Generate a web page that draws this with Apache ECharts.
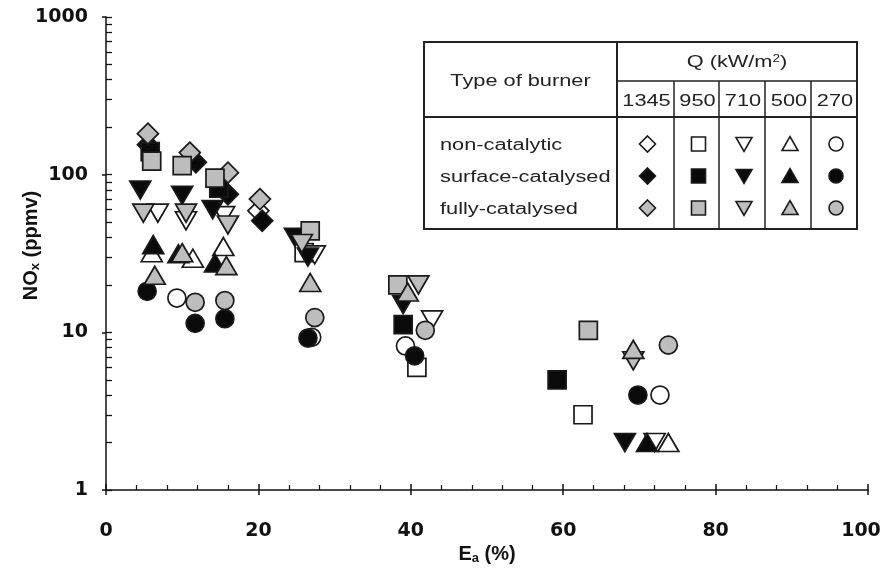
<!DOCTYPE html>
<html><head><meta charset="utf-8">
<script src="https://cdn.jsdelivr.net/npm/echarts@6/dist/echarts.min.js"></script>
<style>html,body{margin:0;padding:0;background:#fff}#c{width:881px;height:573px}</style>
</head><body><div id="c"></div>
<script>
// ---- tick labels / categories ----
const xTickValues = [0, 20, 40, 60, 80, 100];
const yMajorTicks = [1, 10, 100, 1000];
const yMinorTicks = [2,3,4,5,6,7,8,9,20,30,40,50,60,70,80,90,200,300,400,500,600,700,800,900];
const qLabels = ['1345', '950', '710', '500', '270'];
const burnerTypes = ['non-catalytic', 'surface-catalysed', 'fully-catalysed'];

// ---- data: [Ea (%), NOx (ppmv)] ----
// non-catalytic (open symbols)
const nonCat1345 = [[20, 59]];
const nonCat950  = [[26, 32], [40.8, 6.0], [62.6, 3.0]];
const nonCat710  = [[6.8, 57], [10.5, 51], [15.5, 55], [27.4, 31], [42.8, 12], [72, 2]];
const nonCat500  = [[6, 32], [11.4, 29.5], [15.4, 35], [73.8, 2]];
const nonCat270  = [[9.3, 16.5], [27, 9.3], [39.3, 8.2], [72.7, 4.0]];
// surface-catalysed (black symbols)
const surf1345 = [[5.5, 155], [11.8, 120], [16, 75], [20.5, 51]];
const surf950  = [[5.8, 140], [14.8, 82], [39, 11.2], [59.2, 5.0]];
const surf710  = [[4.5, 80], [10, 74], [14, 60], [24.8, 40], [26.5, 30], [39, 15], [68.1, 2]];
const surf500  = [[6.2, 36], [9.5, 31.5], [14.3, 27.5], [71, 2]];
const surf270  = [[5.4, 18.2], [11.7, 11.4], [15.6, 12.2], [26.5, 9.2], [40.5, 7.1], [69.8, 4.0]];
// fully-catalysed (grey symbols)
const full1345 = [[5.5, 182], [11, 138], [16, 103], [20.2, 70]];
const full950  = [[6, 122], [10, 114], [14.3, 95], [26.8, 44], [38.3, 20], [63.3, 10.3]];
const full710  = [[4.9, 57], [10.5, 57], [16, 48], [25.7, 36.6], [41, 20], [69.2, 6.6]];
const full500  = [[6.4, 23], [10, 32], [15.8, 26.5], [26.8, 20.7], [39.6, 18], [69.2, 7.8]];
const full270  = [[11.7, 15.5], [15.6, 15.9], [27.4, 12.4], [41.9, 10.3], [73.8, 8.3]];

const dataByType = [
  [nonCat1345, nonCat950, nonCat710, nonCat500, nonCat270],
  [surf1345, surf950, surf710, surf500, surf270],
  [full1345, full950, full710, full500, full270]
];

// ---- styles ----
const fills = ['#ffffff', '#0a0a0a', '#bdbdbd'];
const edge = '#1a1a1a';
const symbolDefs = [
  {symbol: 'diamond', size: [21, 21], rotate: 0},
  {symbol: 'rect', size: 18, rotate: 0},
  {symbol: 'triangle', size: [21, 18], rotate: 180},
  {symbol: 'triangle', size: [21, 18], rotate: 0},
  {symbol: 'circle', size: 18, rotate: 0}
];

const series = [];
dataByType.forEach((row, t) => {
  row.forEach((pts, q) => {
    const s = symbolDefs[q];
    series.push({
      name: burnerTypes[t] + ' ' + qLabels[q],
      type: 'scatter',
      xAxisIndex: 0, yAxisIndex: 0,
      data: pts,
      symbol: s.symbol,
      symbolSize: s.size,
      symbolRotate: s.rotate,
      itemStyle: {color: fills[t], borderColor: edge, borderWidth: 1.7, opacity: 1},
      emphasis: {disabled: true},
      z: 3 + t
    });
  });
});

// ---- legend table (graphic) ----
const T = {l: 424, t: 42, r: 857, b: 229, split: 617, qLine: 81, hdr: 117};
const colX = [617, 674, 719, 765, 811, 857];
const rowY = [145, 177, 209];
const font = '16px "Liberation Sans", Arial, sans-serif';
const SX = 1.36;
const g = [];
const ln = (x1, y1, x2, y2, w) => g.push({type: 'line', shape: {x1, y1, x2, y2}, style: {stroke: '#222', lineWidth: w || 1.5}, z: 10});
g.push({type: 'rect', shape: {x: T.l, y: T.t, width: T.r - T.l, height: T.b - T.t}, style: {fill: '#fff', stroke: '#222', lineWidth: 2}, z: 9});
ln(T.split, T.t, T.split, T.b, 2);
ln(T.split, T.qLine, T.r, T.qLine);
ln(T.l, T.hdr, T.r, T.hdr, 2);
for (let i = 1; i < 5; i++) ln(colX[i], T.qLine, colX[i], T.b);
const txt = (text, x, y, align) => g.push({type: 'text', x, y, scaleX: SX, style: {text, font, fill: '#222', align: align || 'center', verticalAlign: 'middle'}, z: 11});
txt('Type of burner', (T.l + T.split) / 2, 82);
g.push({type: 'text', x: (T.split + T.r) / 2, y: 63, scaleX: SX, style: {
  text: '{a|Q (kW/m}{s|2}{a|)}', align: 'center', verticalAlign: 'middle',
  rich: {a: {font, fill: '#222'}, s: {font: '10px "Liberation Sans", Arial, sans-serif', fill: '#222', padding: [0, 0, 8, 0]}}
}, z: 11});
for (let i = 0; i < 5; i++) txt(qLabels[i], (colX[i] + colX[i + 1]) / 2 + 1, 102);
for (let r = 0; r < 3; r++) txt(burnerTypes[r], 440, rowY[r] + 1, 'left');
// legend symbols
const ls = 8;
for (let r = 0; r < 3; r++) {
  for (let c = 0; c < 5; c++) {
    const cx = (colX[c] + colX[c + 1]) / 2 + 2, cy = rowY[r] - 1;
    const style = {fill: fills[r], stroke: edge, lineWidth: 1.6};
    let el;
    if (c === 0) el = {type: 'polygon', shape: {points: [[cx, cy - ls], [cx + ls, cy], [cx, cy + ls], [cx - ls, cy]]}};
    else if (c === 1) el = {type: 'rect', shape: {x: cx - 7, y: cy - 7, width: 14, height: 14}};
    else if (c === 2) el = {type: 'polygon', shape: {points: [[cx - 8, cy - 6.5], [cx + 8, cy - 6.5], [cx, cy + 7.5]]}};
    else if (c === 3) el = {type: 'polygon', shape: {points: [[cx - 8, cy + 6.5], [cx + 8, cy + 6.5], [cx, cy - 7.5]]}};
    else el = {type: 'circle', shape: {cx, cy, r: 7}};
    el.style = style; el.z = 12;
    g.push(el);
  }
}

const labelStyle = {fontFamily: 'DejaVu Sans', fontWeight: 'bold', fontSize: 19, color: '#111'};
const nameRich = {
  a: {fontFamily: 'Liberation Sans', fontWeight: 'bold', fontSize: 20, color: '#111'},
  s: {fontFamily: 'Liberation Sans', fontWeight: 'bold', fontSize: 13, color: '#111', padding: [9, 0, 0, 0]}
};

const option = {
  backgroundColor: '#fff',
  animation: false,
  grid: {left: 106, right: 13, top: 17, bottom: 83, containLabel: false, outerBoundsMode: 'none'},
  xAxis: [{
    type: 'value', min: xTickValues[0], max: xTickValues[xTickValues.length - 1], interval: 20,
    axisLine: {lineStyle: {color: '#111', width: 1.5}},
    axisTick: {inside: true, length: 6, lineStyle: {color: '#111', width: 1.5}},
    minorTick: {show: true, splitNumber: 5, length: 5, lineStyle: {color: '#111', width: 1.2}},
    axisLabel: Object.assign({
      margin: 32,
      formatter: v => v === xTickValues[xTickValues.length - 1] ? '{r|' + v + '}' : String(v),
      rich: {r: Object.assign({padding: [0, 14, 0, 0]}, {fontFamily: 'DejaVu Sans', fontWeight: 'bold', fontSize: 19, color: '#111'})}
    }, labelStyle),
    splitLine: {show: false},
    name: '{a|E}{s|a}{a| (%)}', nameLocation: 'middle', nameGap: 53, nameMoveOverlap: false,
    nameTextStyle: {rich: nameRich}
  }, {
    type: 'value', min: 0, max: 100, interval: 20, position: 'bottom',
    axisLine: {show: false},
    axisTick: {inside: false, length: 5, lineStyle: {color: '#111', width: 1.5}},
    axisLabel: {show: false}, splitLine: {show: false}
  }],
  yAxis: [{
    type: 'log', logBase: 10, min: yMajorTicks[0], max: yMajorTicks[yMajorTicks.length - 1],
    axisLine: {lineStyle: {color: '#111', width: 1.5}},
    axisTick: {inside: true, length: 6, customValues: yMajorTicks.concat(yMinorTicks), lineStyle: {color: '#111', width: 1.3}},
    axisLabel: Object.assign({margin: 18, customValues: yMajorTicks, formatter: v => String(Math.round(v))}, labelStyle),
    splitLine: {show: false},
    name: '{a|NO}{s|x}{a| (ppmv)}', nameLocation: 'middle', nameGap: 64, nameRotate: 90, nameMoveOverlap: false,
    nameTextStyle: {rich: nameRich, padding: [0, 0, 0, 16]}
  }, {
    type: 'log', logBase: 10, min: 1, max: 1000, position: 'left',
    axisLine: {show: false},
    axisTick: {inside: false, length: 4, customValues: yMajorTicks, lineStyle: {color: '#111', width: 1.5}},
    axisLabel: {show: false}, splitLine: {show: false}
  }],
  graphic: g,
  series: series
};
echarts.init(document.getElementById('c'), null, {renderer: 'canvas'}).setOption(option);
</script></body></html>
